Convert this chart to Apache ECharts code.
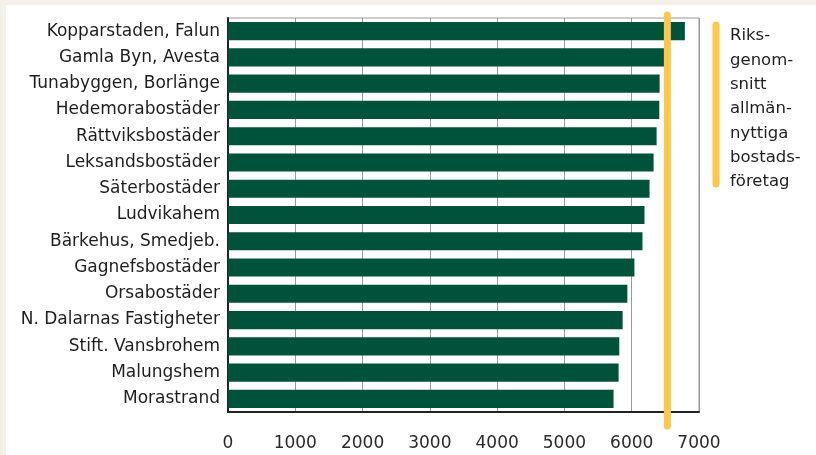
<!DOCTYPE html>
<html>
<head>
<meta charset="utf-8">
<script src="https://cdn.jsdelivr.net/npm/echarts@6/dist/echarts.min.js"></script>
<style>
html, body { margin: 0; padding: 0; background: #f4f1ea; }
#main { width: 816px; height: 455px; }
</style>
</head>
<body>
<div id="main"></div>
<script>
var categories = ['Kopparstaden, Falun', 'Gamla Byn, Avesta', 'Tunabyggen, Borlänge', 'Hedemorabostäder',
    'Rättviksbostäder', 'Leksandsbostäder', 'Säterbostäder', 'Ludvikahem', 'Bärkehus, Smedjeb.',
    'Gagnefsbostäder', 'Orsabostäder', 'N. Dalarnas Fastigheter', 'Stift. Vansbrohem', 'Malungshem', 'Morastrand'];
var values = [6790, 6480, 6415, 6410, 6370, 6325, 6265, 6190, 6160, 6040, 5935, 5865, 5815, 5805, 5730];
var riksSnitt = 6530;
var legendLines = ['Riks-', 'genom-', 'snitt', 'allmän-', 'nyttiga', 'bostads-', 'företag'];

var font = 'DejaVu Sans';
var green = '#00533a';
var orange = '#fdc84c';

var myChart = echarts.init(document.getElementById('main'));
var option = {
    backgroundColor: '#f4f1ea',
    animation: false,
    graphic: [
        { type: 'rect', z: -10, shape: { x: 6, y: 5, width: 816, height: 455 }, style: { fill: '#ffffff' } },
        { type: 'line', shape: { x1: 716, y1: 25, x2: 716, y2: 184 },
          style: { stroke: orange, lineWidth: 7, lineCap: 'round' } },
        { type: 'text', left: 730, top: 24,
          style: { text: legendLines.join('\n'), font: '16.5px "' + font + '"', fill: '#1e1e1e', lineHeight: 24.3 } }
    ],
    grid: { left: 228, right: 117, top: 18, bottom: 43, show: true, borderColor: '#999', borderWidth: 1, backgroundColor: 'transparent' },
    xAxis: {
        type: 'value', min: 0, max: 7000, interval: 1000,
        axisLine: { show: true, lineStyle: { color: '#222', width: 2 } },
        axisTick: { show: false },
        splitLine: { show: true, lineStyle: { color: '#999', width: 1 } },
        axisLabel: {
            color: '#2a2a2a', fontFamily: font, fontSize: 17, margin: 23,
            formatter: function (v) { return String(v); }
        }
    },
    yAxis: {
        type: 'category', data: categories, inverse: true,
        axisLine: { show: true, lineStyle: { color: '#222', width: 2 } },
        axisTick: { show: false },
        axisLabel: { color: '#1e1e1e', fontFamily: font, fontSize: 17, margin: 8 }
    },
    series: [
        {
            type: 'bar', data: values, barCategoryGap: '31%',
            itemStyle: { color: green }, z: 2
        },
        {
            type: 'custom', clip: false, z: 5,
            data: [riksSnitt],
            renderItem: function (params, api) {
                var x = api.coord([api.value(0), 0])[0];
                var cs = params.coordSys;
                return {
                    type: 'line',
                    shape: { x1: x, y1: cs.y - 3, x2: x, y2: cs.y + cs.height + 14 },
                    style: { stroke: orange, lineWidth: 7, lineCap: 'round' }
                };
            },
            encode: { x: 0 }
        }
    ]
};
myChart.setOption(option);
</script>
</body>
</html>
